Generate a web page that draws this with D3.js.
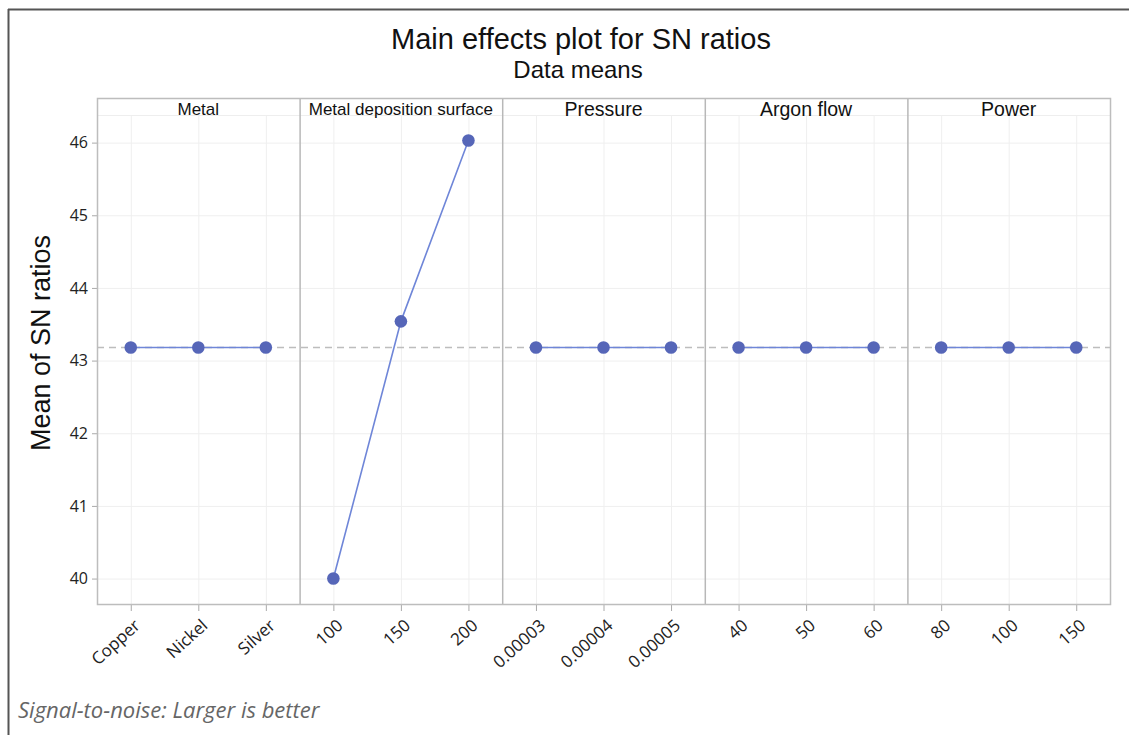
<!DOCTYPE html>
<html>
<head>
<meta charset="utf-8">
<script src="https://cdn.jsdelivr.net/npm/d3@7"></script>
<style>
  body { margin: 0; background: #fff; }
  svg { display: block; }
</style>
</head>
<body>
<svg id="chart" width="1129" height="735"></svg>
<script>
// factors and their levels
const factors = ["Metal", "Metal deposition surface", "Pressure", "Argon flow", "Power"];
const levels = [
    ["Copper", "Nickel", "Silver"],
    ["100", "150", "200"],
    ["0.00003", "0.00004", "0.00005"],
    ["40", "50", "60"],
    ["80", "100", "150"]
];
const snMeans = [
    [43.18, 43.18, 43.18],
    [40.00, 43.54, 46.03],
    [43.18, 43.18, 43.18],
    [43.18, 43.18, 43.18],
    [43.18, 43.18, 43.18]
];
const grandMean = 43.18;
const yTicks = [40, 41, 42, 43, 44, 45, 46];

const svg = d3.select("#chart");
const width = +svg.attr("width");
const height = +svg.attr("height");
const margin = { top: 98, right: 19, bottom: 131, left: 97 };
const stripH = 17;
const plotW = width - margin.left - margin.right;
const plotH = height - margin.top - margin.bottom;

// outer frame (only top and left edges visible)
svg.append("line").attr("x1", 8).attr("x2", width).attr("y1", 9.5).attr("y2", 9.5)
    .attr("stroke", "#555").attr("stroke-width", 2);
svg.append("line").attr("x1", 8.5).attr("x2", 8.5).attr("y1", 9).attr("y2", height)
    .attr("stroke", "#555").attr("stroke-width", 2);

svg.append("text")
    .attr("x", 581).attr("y", 49)
    .attr("text-anchor", "middle")
    .style("font-family", "Liberation Sans, Arial, sans-serif")
    .style("font-size", "29px")
    .attr("fill", "#111")
    .text("Main effects plot for SN ratios");

svg.append("text")
    .attr("x", 578).attr("y", 78)
    .attr("text-anchor", "middle")
    .style("font-family", "Liberation Sans, Arial, sans-serif")
    .style("font-size", "24px")
    .attr("fill", "#111")
    .text("Data means");

svg.append("text")
    .attr("transform", "translate(50, 343) rotate(-90)")
    .attr("text-anchor", "middle")
    .style("font-family", "Liberation Sans, Arial, sans-serif")
    .style("font-size", "27px")
    .attr("fill", "#111")
    .text("Mean of SN ratios");

svg.append("text")
    .attr("x", 18).attr("y", 718)
    .style("font-family", "Open Sans, Noto Sans, sans-serif")
    .style("font-style", "italic")
    .style("font-size", "22px")
    .attr("fill", "#666")
    .text("Signal-to-noise: Larger is better");

const g = svg.append("g").attr("transform", `translate(${margin.left},${margin.top})`);

const panelScale = d3.scaleBand().domain(factors).range([0, plotW]);
const y = d3.scaleLinear().domain([39.65, 46.38]).range([plotH, stripH]);

// horizontal grid
g.selectAll(".hgrid")
    .data(yTicks)
    .join("line")
    .attr("class", "hgrid")
    .attr("x1", 0).attr("x2", plotW)
    .attr("y1", d => y(d) + 0.5).attr("y2", d => y(d) + 0.5)
    .attr("stroke", "#efefef");

g.append("line")
    .attr("x1", 0).attr("x2", plotW)
    .attr("y1", stripH + 0.5).attr("y2", stripH + 0.5)
    .attr("stroke", "#eeeeee");

// y axis
const yAxis = d3.axisLeft(y).tickValues(yTicks).tickSize(5).tickPadding(4).tickFormat(d3.format("d"));
const yAxisG = g.append("g").call(yAxis);
yAxisG.select(".domain").remove();
yAxisG.selectAll(".tick line").attr("stroke", "#aaa");
yAxisG.selectAll(".tick text")
    .style("font-family", "Open Sans, Noto Sans, sans-serif")
    .style("font-size", "16px")
    .attr("fill", "#222");

const line = d3.line();

factors.forEach((f, i) => {
    const px = panelScale(f);
    const pw = panelScale.bandwidth();
    const x = d3.scalePoint().domain(levels[i]).range([px, px + pw]).padding(0.5);

    const panel = g.append("g");

    panel.selectAll(".vgrid")
        .data(levels[i])
        .join("line")
        .attr("class", "vgrid")
        .attr("x1", d => x(d) + 0.5).attr("x2", d => x(d) + 0.5)
        .attr("y1", stripH).attr("y2", plotH)
        .attr("stroke", "#efefef");

    // strip label
    panel.append("text")
        .attr("x", px + pw / 2)
        .attr("y", i < 2 ? 17 : 18)
        .attr("text-anchor", "middle")
        .style("font-family", "Liberation Sans, Arial, sans-serif")
        .style("font-size", i < 2 ? "17px" : "19.5px")
        .attr("fill", "#111")
        .text(f);

    // x axis for this panel
    const xAxis = d3.axisBottom(x).tickSize(7).tickPadding(0);
    const xg = panel.append("g").attr("transform", `translate(0,${plotH})`).call(xAxis);
    xg.select(".domain").remove();
    xg.selectAll(".tick line").attr("stroke", "#aaa");
    xg.selectAll(".tick text")
        .attr("text-anchor", "end")
        .attr("dy", 0)
        .attr("y", 0)
        .attr("transform", "translate(10,23) rotate(-42)")
        .style("font-family", "Open Sans, Noto Sans, sans-serif")
        .style("font-size", "17px")
        .attr("fill", "#222");
});

// reference line at the grand mean
g.append("line")
    .attr("x1", 0).attr("x2", plotW)
    .attr("y1", y(grandMean)).attr("y2", y(grandMean))
    .attr("stroke", "#bdbdbd")
    .attr("stroke-width", 1.5)
    .attr("stroke-dasharray", "7,5");

// panel separators and frame
g.selectAll(".sep")
    .data(factors.slice(1))
    .join("line")
    .attr("class", "sep")
    .attr("x1", d => panelScale(d) + 0.5).attr("x2", d => panelScale(d) + 0.5)
    .attr("y1", 0).attr("y2", plotH)
    .attr("stroke", "#b8b8b8")
    .attr("stroke-width", 1.5);

g.append("rect")
    .attr("x", 0.5).attr("y", 0.5)
    .attr("width", plotW).attr("height", plotH)
    .attr("fill", "none")
    .attr("stroke", "#bdbdbd")
    .attr("stroke-width", 1.5);

factors.forEach((f, i) => {
    const px = panelScale(f);
    const pw = panelScale.bandwidth();
    const x = d3.scalePoint().domain(levels[i]).range([px, px + pw]).padding(0.5);
    const pts = levels[i].map((lv, j) => ({ x: x(lv), y: y(snMeans[i][j]) }));

    g.append("path")
        .datum(pts)
        .attr("d", line.x(d => d.x).y(d => d.y))
        .attr("fill", "none")
        .attr("stroke", "#6f86d8")
        .attr("stroke-width", 1.6);

    g.selectAll(".pt" + i)
        .data(pts)
        .join("circle")
        .attr("class", "pt" + i)
        .attr("cx", d => d.x)
        .attr("cy", d => d.y)
        .attr("r", 6.3)
        .attr("fill", "#5666b8");
});
</script>
</body>
</html>
